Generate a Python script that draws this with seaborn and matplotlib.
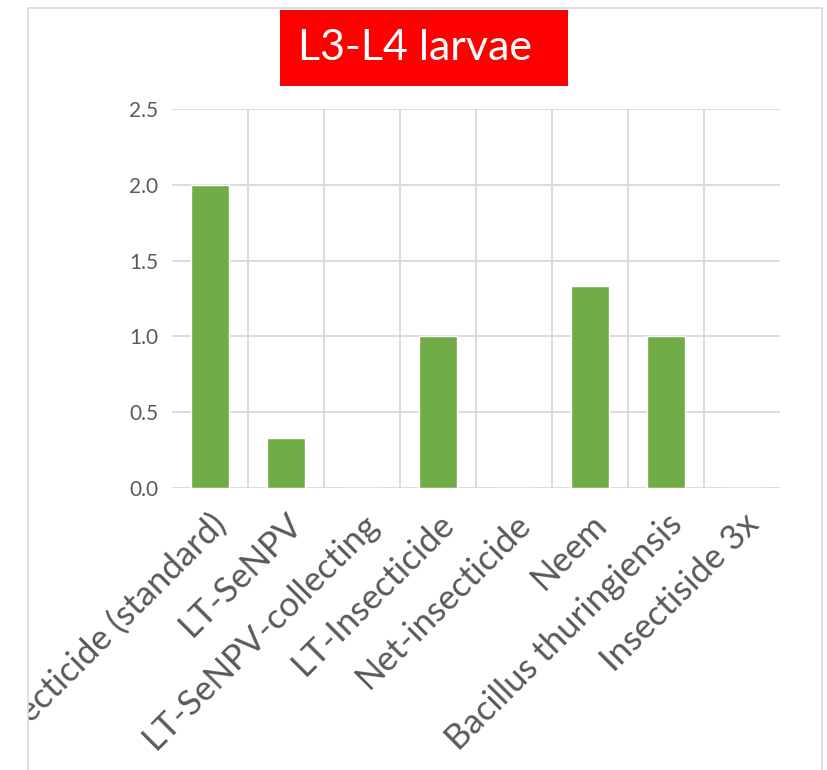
import matplotlib
matplotlib.use("Agg")
import matplotlib.pyplot as plt
import seaborn as sns
from matplotlib.patches import Rectangle
from matplotlib.transforms import Bbox, TransformedBbox

# data
categories = ["Insecticide (standard)", "LT-SeNPV", "LT-SeNPV-collecting",
              "LT-Insecticide", "Net-insecticide", "Neem",
              "Bacillus thuringiensis", "Insectiside 3x"]
values = [2.0, 0.33, 0.0, 1.0, 0.0, 1.33, 1.0, 0.0]
yticks = [0.0, 0.5, 1.0, 1.5, 2.0, 2.5]
title = "L3-L4 larvae"

sns.set_style("white")
plt.rcParams["font.family"] = ["Lato", "DejaVu Sans"]

W, H = 828, 770
fig = plt.figure(figsize=(W / 100, H / 100), dpi=100)
ax = fig.add_axes([172 / W, 1 - 488 / H, 608 / W, 379 / H])

sns.barplot(x=categories, y=values, color="#70AD47", saturation=1,
            width=0.49, ax=ax, zorder=3)

ax.set_ylim(0, 2.5)
ax.set_xlim(-0.5, len(categories) - 0.5)
ax.set_yticks(yticks)
ax.set_yticklabels([f"{t:.1f}" for t in yticks])
ax.set_xticks([i + 0.5 for i in range(len(categories) - 1)], minor=True)
ax.grid(axis="y", which="major", color="#D9D9D9", lw=1.3, zorder=0)
ax.grid(axis="x", which="minor", color="#D9D9D9", lw=1.3, zorder=0)
ax.set_axisbelow(True)
for s in ax.spines.values():
    s.set_visible(False)
ax.tick_params(axis="both", which="both", length=0)
ax.tick_params(axis="y", labelsize=15, labelcolor="#595959", pad=10)
ax.tick_params(axis="x", labelsize=25, labelcolor="#595959", pad=14)
ax.set_xlabel("")
ax.set_ylabel("")

# clip labels to the chart frame like the original
clip = TransformedBbox(Bbox([[28 / W, 0], [822 / W, 1 - 8 / H]]), fig.transFigure)
for lab in ax.get_xticklabels():
    lab.set_rotation(45)
    lab.set_ha("right")
    lab.set_rotation_mode("anchor")
    lab.set_clip_on(True)
    lab.set_clip_box(clip)

# chart frame
fig.patches.append(Rectangle((28 / W, -0.01), 794 / W, 1 - 8 / H + 0.01,
                             transform=fig.transFigure, fill=False,
                             edgecolor="#D9D9D9", lw=1.2))

# red title box
fig.patches.append(Rectangle((280 / W, 1 - 86 / H), 288 / W, 76 / H,
                             transform=fig.transFigure, facecolor="#FF0000",
                             edgecolor="none"))
fig.text(298 / W, 1 - 48 / H, title, color="white", fontsize=31,
         ha="left", va="center")

fig.savefig("out.png", dpi=100)
